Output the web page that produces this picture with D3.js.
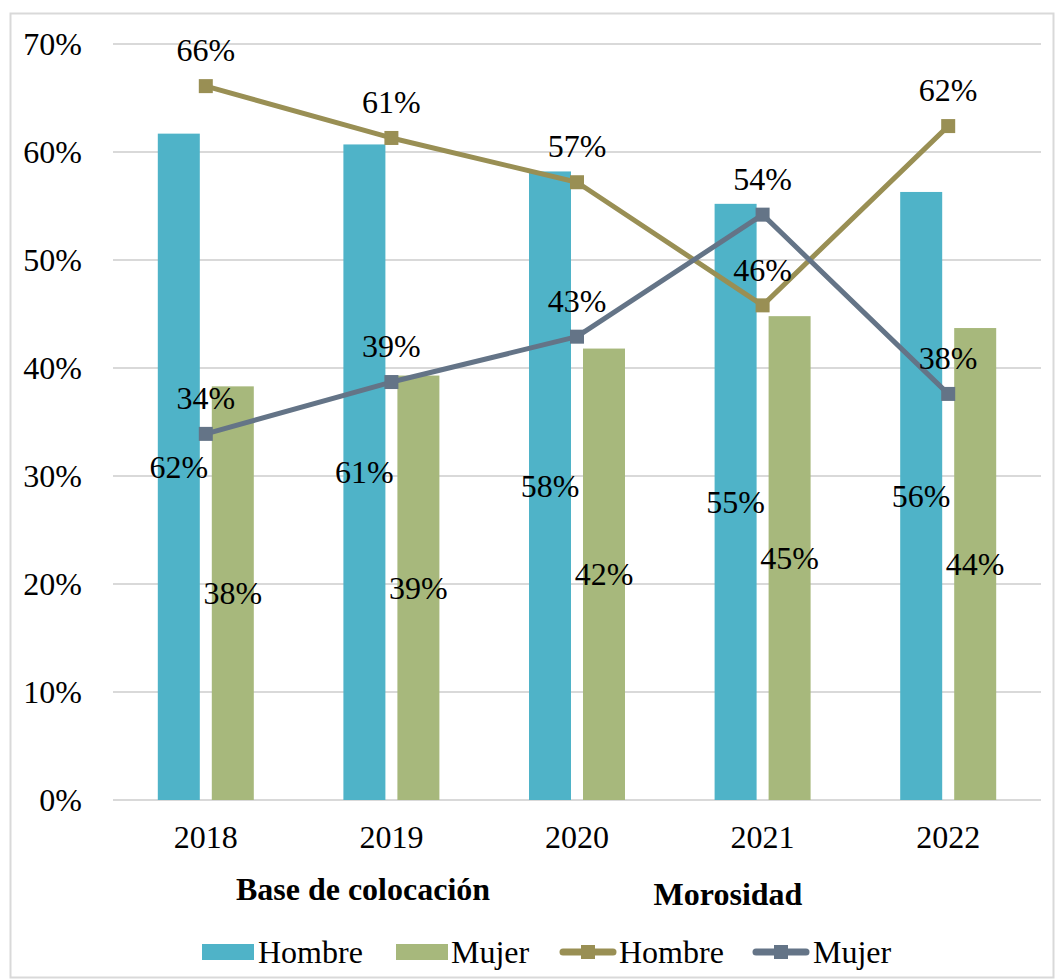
<!DOCTYPE html>
<html><head><meta charset="utf-8">
<script src="https://cdn.jsdelivr.net/npm/d3@7"></script>
<style>body{margin:0;background:#fff;}</style>
</head><body>
<svg id="c" width="1057" height="979" font-family="'Liberation Serif', 'Times New Roman', Times, serif"></svg>
<script>
const years = ["2018","2019","2020","2021","2022"];
const baseHombre = [61.7, 60.7, 58.2, 55.2, 56.3];
const baseMujer = [38.3, 39.3, 41.8, 44.8, 43.7];
const morHombre = [66.1, 61.3, 57.2, 45.8, 62.4];
const morMujer = [33.9, 38.7, 42.9, 54.2, 37.6];
const yTicks = [0,10,20,30,40,50,60,70];

const C = {bh:"#4FB3C8", bm:"#A7B87C", lh:"#998F54", lm:"#647487", grid:"#D9D9D9"};
const FS = 32;
const svg = d3.select("#c");
svg.append("rect").attr("x",10.5).attr("y",13.5).attr("width",1043).attr("height",964)
  .attr("fill","#fff").attr("stroke","#D9D9D9").attr("stroke-width",2);

const x0=113, x1=1041, yTop=44, yBot=800;
const x = d3.scaleBand().domain(years).range([x0,x1]);
const y = d3.scaleLinear().domain([0,70]).range([yBot,yTop]);

const g = svg.append("g");
g.selectAll(".grid").data(yTicks).join("line")
  .attr("x1",x0).attr("x2",x1).attr("y1",d=>y(d)).attr("y2",d=>y(d))
  .attr("stroke",C.grid).attr("stroke-width",2);
g.selectAll(".yt").data(yTicks).join("text")
  .attr("x",82).attr("y",d=>y(d)).attr("dy","0.35em").attr("text-anchor","end")
  .attr("font-size",FS).text(d=>d+"%");
g.selectAll(".xt").data(years).join("text")
  .attr("x",d=>x(d)+x.bandwidth()/2).attr("y",848).attr("text-anchor","middle")
  .attr("font-size",FS).text(d=>d);

const bw=42, gap=12;
const cx = d=>x(d)+x.bandwidth()/2;
g.selectAll(".bh").data(years).join("rect")
  .attr("x",d=>cx(d)-gap/2-bw).attr("width",bw)
  .attr("y",(d,i)=>y(baseHombre[i])).attr("height",(d,i)=>yBot-y(baseHombre[i])).attr("fill",C.bh);
g.selectAll(".bm").data(years).join("rect")
  .attr("x",d=>cx(d)+gap/2).attr("width",bw)
  .attr("y",(d,i)=>y(baseMujer[i])).attr("height",(d,i)=>yBot-y(baseMujer[i])).attr("fill",C.bm);

const line = d3.line().x((d,i)=>cx(years[i])).y(d=>y(d));
[[morHombre,C.lh],[morMujer,C.lm]].forEach(([vals,col])=>{
  g.append("path").datum(vals).attr("d",line).attr("fill","none").attr("stroke",col).attr("stroke-width",5).attr("stroke-linejoin","round");
  g.selectAll(null).data(vals).join("rect")
    .attr("x",(d,i)=>cx(years[i])-7).attr("y",d=>y(d)-7).attr("width",14).attr("height",14).attr("fill",col);
});

g.selectAll(".lbh").data(years).join("text")
  .attr("x",d=>cx(d)-gap/2-bw/2).attr("y",(d,i)=>(yBot+y(baseHombre[i]))/2).attr("dy","0.35em")
  .attr("text-anchor","middle").attr("font-size",FS).text((d,i)=>Math.round(baseHombre[i])+"%");
g.selectAll(".lbm").data(years).join("text")
  .attr("x",d=>cx(d)+gap/2+bw/2).attr("y",(d,i)=>(yBot+y(baseMujer[i]))/2).attr("dy","0.35em")
  .attr("text-anchor","middle").attr("font-size",FS).text((d,i)=>Math.round(baseMujer[i])+"%");
[morHombre,morMujer].forEach(vals=>{
  g.selectAll(null).data(vals).join("text")
    .attr("x",(d,i)=>cx(years[i])).attr("y",d=>y(d)-36).attr("dy","0.35em")
    .attr("text-anchor","middle").attr("font-size",FS).text(d=>Math.round(d)+"%");
});

svg.append("text").attr("x",363).attr("y",900).attr("text-anchor","middle")
  .attr("font-size",FS).attr("font-weight","bold").text("Base de colocación");
svg.append("text").attr("x",728).attr("y",905).attr("text-anchor","middle")
  .attr("font-size",FS).attr("font-weight","bold").text("Morosidad");

const ly=952;
const leg = svg.append("g");
const items=[
  {type:"rect",col:C.bh,x:202,tx:258,label:"Hombre"},
  {type:"rect",col:C.bm,x:396,tx:451,label:"Mujer"},
  {type:"line",col:C.lh,x:560,tx:619,label:"Hombre"},
  {type:"line",col:C.lm,x:753,tx:813,label:"Mujer"}];
items.forEach(it=>{
  if(it.type==="rect"){
    leg.append("rect").attr("x",it.x).attr("y",ly-8).attr("width",52).attr("height",16).attr("fill",it.col);
  } else {
    leg.append("line").attr("x1",it.x+3).attr("x2",it.x+53).attr("y1",ly).attr("y2",ly).attr("stroke",it.col).attr("stroke-width",7).attr("stroke-linecap","round");
    leg.append("rect").attr("x",it.x+28-7).attr("y",ly-7).attr("width",14).attr("height",14).attr("fill",it.col);
  }
  leg.append("text").attr("x",it.tx).attr("y",ly).attr("dy","0.35em").attr("font-size",FS).text(it.label);
});
</script>
</body></html>
